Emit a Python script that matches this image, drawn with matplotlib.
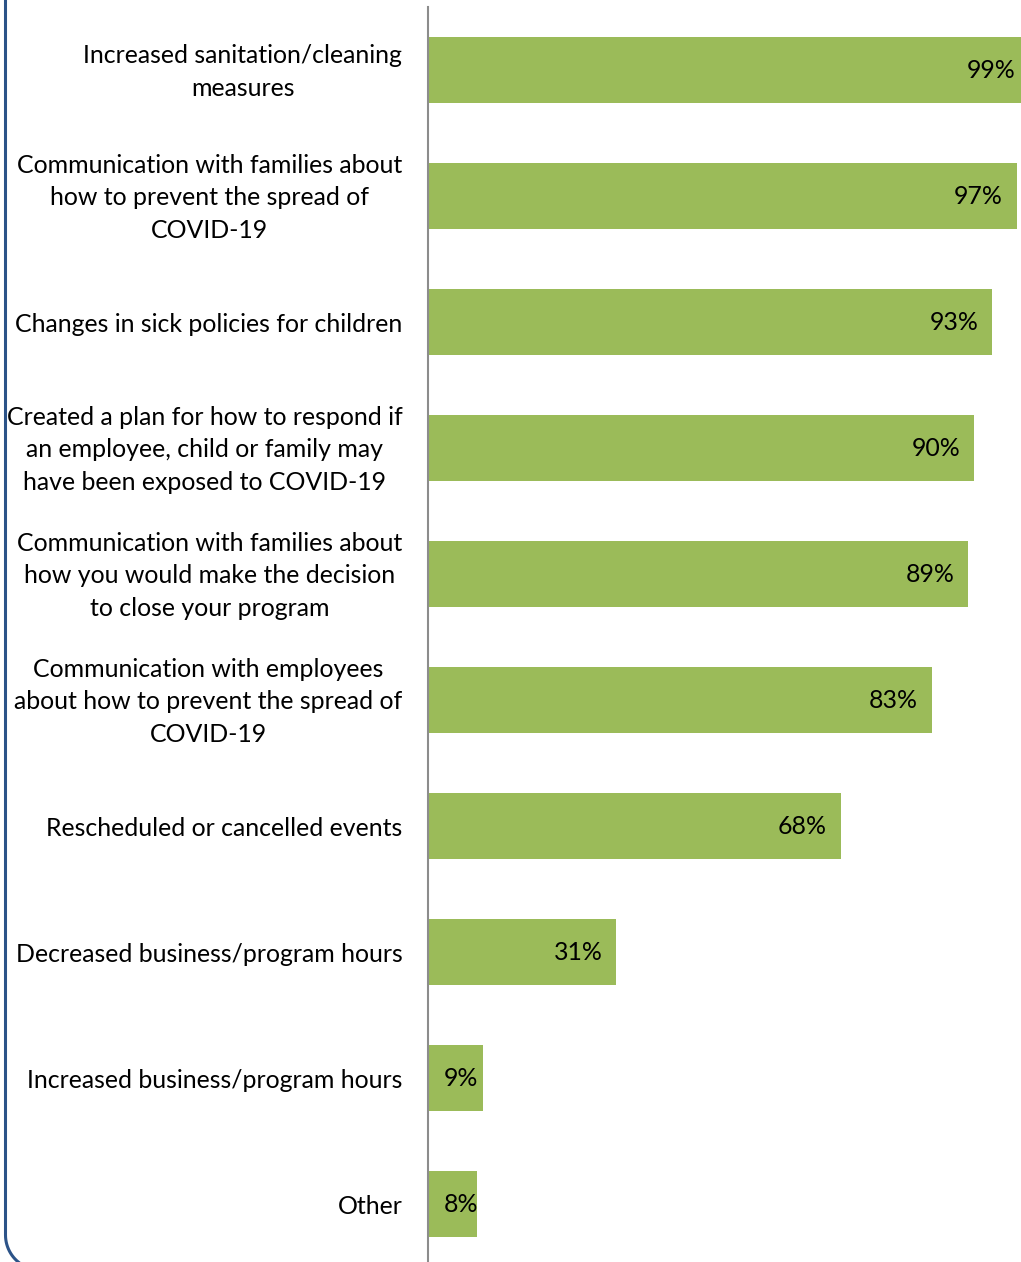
import numpy as np
import matplotlib
matplotlib.use("Agg")
import matplotlib.pyplot as plt
import matplotlib.transforms as mtransforms
from matplotlib.path import Path
from matplotlib.patches import PathPatch

categories = [
    "Increased sanitation/cleaning\nmeasures",
    "Communication with families about\nhow to prevent the spread of\nCOVID-19",
    "Changes in sick policies for children",
    "Created a plan for how to respond if\nan employee, child or family may\nhave been exposed to COVID-19",
    "Communication with families about\nhow you would make the decision\nto close your program",
    "Communication with employees\nabout how to prevent the spread of\nCOVID-19",
    "Rescheduled or cancelled events",
    "Decreased business/program hours",
    "Increased business/program hours",
    "Other",
]
values = [99, 97, 93, 90, 89, 83, 68, 31, 9, 8]
value_labels = ["99%", "97%", "93%", "90%", "89%", "83%", "68%", "31%", "9%", "8%"]

plt.rcParams["font.family"] = ["Lato", "DejaVu Sans"]
FS = 17.9

W, H = 1021, 1262
fig = plt.figure(figsize=(W / 100, H / 100), dpi=100)

ax = fig.add_axes([428 / W, 1 - 1267 / H, (W - 428) / W, 1260 / H])
ax.set_xlim(0, 97.7)
ypos = np.arange(len(categories))
ax.barh(ypos, values, height=0.524, color="#9BBB59", edgecolor="none", zorder=2)
ax.set_ylim(len(categories) - 0.5, -0.5)

for s in ["top", "right", "bottom"]:
    ax.spines[s].set_visible(False)
ax.spines["left"].set_color("#8c8c8c")
ax.spines["left"].set_linewidth(1.5)
ax.spines["left"].set_zorder(3)
ax.set_xticks([])
ax.set_yticks(ypos)
ax.set_yticklabels(categories, fontsize=FS, multialignment="center", linespacing=1.52)
ax.tick_params(axis="y", length=0, pad=18.5)

# nudge wrapped labels so their block is centred on the bar
lift = mtransforms.ScaledTranslation(0, 5 / 100, fig.dpi_scale_trans)
for lbl in ax.get_yticklabels():
    if "\n" in lbl.get_text():
        lbl.set_transform(lbl.get_transform() + lift)

for y, v, lab in zip(ypos, values, value_labels):
    if v < 15:
        ax.annotate(lab, xy=(0, y), xytext=(11, 0), textcoords="offset points",
                    ha="left", va="center", fontsize=FS, color="black", zorder=4,
                    annotation_clip=False)
    else:
        ax.annotate(lab, xy=(v, y), xytext=(-10, 0), textcoords="offset points",
                    ha="right", va="center", fontsize=FS, color="black", zorder=4,
                    annotation_clip=False)

# rounded frame edge on the left side
r = 35.0
x0 = 5.5
ybot = H + 8
pts = [(x0, -5), (x0, ybot - r)]
th = np.linspace(np.pi, 1.5 * np.pi, 24)
cx, cy = x0 + r, ybot - r
for t in th:
    pts.append((cx + r * np.cos(t), cy - r * np.sin(t)))
pts.append((x0 + r + 30, ybot))
frac = [(px / W, 1 - py / H) for px, py in pts]
path = Path(frac)
fig.patches.append(PathPatch(path, transform=fig.transFigure, fill=False,
                             edgecolor="#2C5388", linewidth=2.2))

fig.savefig("out.png", dpi=100)
